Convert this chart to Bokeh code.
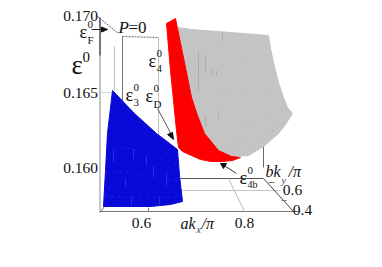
from bokeh.plotting import figure
from bokeh.models import Range1d
from bokeh.core.properties import value
from bokeh.embed import file_html
from bokeh.resources import INLINE

SERIF = value("Liberation Serif")
p = figure(width=366, height=251, output_backend="svg", toolbar_location=None,
           x_range=Range1d(0, 366), y_range=Range1d(251, 0), min_border=0)
p.axis.visible = False
p.grid.visible = False
p.outline_line_color = None

# surfaces
gray_x = [177, 191, 230, 268, 270, 273, 278, 283, 287, 292, 285, 278, 263, 248, 231, 218, 204, 191, 185, 177]
gray_y = [27, 29, 32, 35, 48, 62, 82, 97, 107, 113, 124, 133, 146, 155, 156, 150, 133, 97, 67, 28]
red_x = [166, 175, 177, 185, 191, 197, 204, 218, 231, 240, 232, 222, 211, 200, 191, 182, 178, 176, 173, 170]
red_y = [23, 18, 28, 67, 97, 115, 133, 150, 156, 157, 160, 161, 161, 159, 155, 151, 147, 130, 100, 70]
blue_x = [112, 134, 156, 177, 179, 182, 170, 150, 125, 103, 105, 107]
blue_y = [90, 113, 133, 149, 175, 201, 204, 206, 206, 206, 170, 133]

# frame lines: (x0, y0, x1, y1, colour, width, dash)
frame = [
    (99.5, 17, 99.5, 212, "#8a8a8a", 1, "solid"),
    (99.5, 17, 99.5, 55, "#444444", 1.2, "solid"),
    (99.5, 212, 104, 206, "#777777", 1, "solid"),
    (99.5, 211, 300, 211, "#777777", 1.2, "solid"),
    (180, 178, 263, 178, "#555555", 1, "solid"),
    (182, 190, 280, 190, "#c4c4c4", 1, "solid"),
    (263, 178, 293, 211, "#444444", 1, "solid"),
    (228, 178, 244, 211, "#bbbbbb", 1, "solid"),
    (263, 146, 263, 167, "#666666", 1, "solid"),
    (97, 16, 118, 33, "#555555", 1, "2 1"),
    (122, 36, 158, 37, "#666666", 1, "2 1"),
    (122, 36, 122, 104, "#777777", 1, "solid"),
    (158, 37, 158, 135, "#c0c0c0", 1, "solid"),
    (114, 46, 114, 90, "#c0c0c0", 1, "solid"),
    (97, 92, 112, 92, "#bbbbbb", 1, "1 1"),
    (148, 207, 148, 211, "#777777", 1, "solid"),
    (268, 182, 274, 182, "#777777", 1, "solid"),
    (281, 200, 286, 200, "#777777", 1, "solid"),
    (157, 108, 172, 136, "#555555", 1, "solid"),
    (91, 29, 103, 29, "#333333", 1, "solid"),
    (236, 173, 222, 164, "#333333", 1, "solid"),
]
for x0, y0, x1, y1, c, w, d in frame:
    p.line([x0, x1], [y0, y1], line_color=c, line_width=w, line_dash=d)

p.patch(gray_x, gray_y, fill_color="#c4c4c4", line_color="#c4c4c4")
p.patch(red_x, red_y, fill_color="#ff0000", line_color="#ff0000")
p.patch(blue_x, blue_y, fill_color="#0a0ad8", line_color="#0a0ad8")

# mesh marks on the gray surface
gray_mesh_x = [[198, 198], [205, 205], [211, 211], [216, 216], [222, 222], [205, 205], [218, 218]]
gray_mesh_y = [[50, 90], [55, 73], [68, 75], [70, 76], [33, 41], [115, 126], [110, 118]]
p.multi_line(gray_mesh_x, gray_mesh_y, line_color="#adadad", line_width=1)
gray_arc_x = [[195, 215, 240, 262], [195, 212, 238, 270], [200, 225, 250, 282], [212, 235, 262, 286], [225, 245, 268, 280]]
gray_arc_y = [[45, 52, 60, 60], [70, 88, 95, 88], [100, 120, 122, 110], [130, 142, 138, 118], [150, 150, 136, 122]]
p.multi_line(gray_arc_x, gray_arc_y, line_color="#aeaeae", line_width=1, line_dash="1 5")

# mesh marks on the blue surface
blue_mesh_x = [[113, 113], [125, 125], [133, 133], [146, 146], [153, 153], [166, 166], [131, 131], [159, 159]]
blue_mesh_y = [[150, 162], [178, 186], [148, 158], [155, 165], [165, 176], [172, 185], [196, 205], [196, 204]]
p.multi_line(blue_mesh_x, blue_mesh_y, line_color="#2c2ce2", line_width=1)
blue_arc_x = [[106, 130, 160, 178], [105, 130, 160, 180], [104, 135, 165, 181]]
blue_arc_y = [[147, 148, 158, 165], [172, 172, 178, 182], [196, 197, 197, 196]]
p.multi_line(blue_arc_x, blue_arc_y, line_color="#2424e0", line_width=1, line_dash="2 5")

# arrow heads
head_x = [[107, 101, 101], [220, 226, 223], [173, 167, 172]]
head_y = [[29, 26.5, 31.5], [163, 163, 168], [139, 134, 132]]
p.patches(head_x, head_y, fill_color="#111111", line_color="#111111")

def label(x, y, s, size, align="left", style="normal", color="#111111"):
    p.text([x], [y], text=[s], text_font=SERIF, text_font_size=f"{size}px",
           text_font_style=style, text_align=align, text_baseline="middle", text_color=color)

tick_z = [("0.170", 15), ("0.165", 92), ("0.160", 167)]
for s, y in tick_z:
    label(97.5, y, s, 15.5, "right")
for s, x, y in [("0.6", 141, 222), ("0.8", 244, 222), ("0.6", 292, 189), ("0.4", 302, 209)]:
    label(x, y, s, 15.5, "center")

label(118, 27, "P", 17, style="italic")
label(128, 27, "=0", 17)
label(71, 64, "ε", 27)
label(82, 56, "0", 15)
for x, y, sub in [(79, 31, "F"), (148, 60, "4"), (125, 94, "3"), (145, 95, "D")]:
    label(x, y, "ε", 18)
    label(x + 8, y - 7.5, "0", 11)
    label(x + 8, y + 8, sub, 11)
label(239, 177, "ε", 18)
label(247, 170, "0", 11)
label(247, 184, "4b", 10)
label(180, 223, "ak", 16, style="italic")
label(196, 229, "x", 10, style="italic", color="#334477")
label(201, 223, "/π", 16, style="italic")
label(265, 171, "bk", 16, style="italic")
label(281, 180, "y", 10, style="italic", color="#334477")
label(288, 171, "/π", 16, style="italic")

open("out.html", "w").write(file_html(p, INLINE))
